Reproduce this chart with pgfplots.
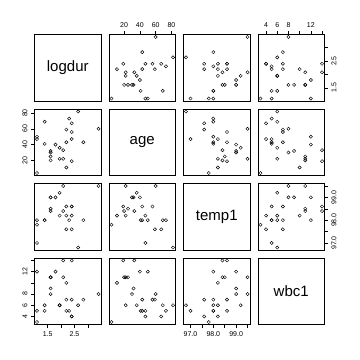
\documentclass[border=0pt]{standalone}
\usepackage{fontspec}
\setmainfont{Liberation Sans}
\usepackage{pgfplots}
\usepackage{pgfplotstable}
\pgfplotsset{compat=1.18}
\pgfplotstableread{
logdur age temp1 wbc1
1.609438 30 99.0 8
2.302585 73 98.0 5
1.791759 40 99.0 12
2.397895 47 98.2 4
1.609438 25 98.5 11
2.639057 82 96.8 6
3.401197 60 99.5 8
2.397895 56 98.6 7
2.833213 43 98.0 7
1.098612 50 98.0 12
2.197225 59 97.6 7
1.098612 4 97.8 3
2.079442 22 99.5 11
2.079442 33 98.4 14
1.609438 20 98.4 11
1.609438 32 99.0 9
1.945910 36 99.2 6
1.386294 69 98.0 6
1.098612 47 97.0 5
1.945910 22 98.2 6
2.197225 11 98.2 10
2.397895 19 98.6 14
2.397895 67 97.6 4
2.197225 43 98.6 5
1.386294 41 98.0 5
}\hosp
\tikzset{dg/.style={font=\fontsize{15}{16}\selectfont}}
\pgfplotsset{
 pan/.style={scale only axis, width=66.5pt, height=66.5pt, anchor=north west,
   axis line style={line width=0.6pt}, xtick=\empty, ytick=\empty,
   tick align=outside, major tick length=3.5pt,
   every tick/.style={black, line width=0.5pt},
   tick label style={font=\fontsize{7}{8}\selectfont}},
 xLD/.style={xmin=1.006509,xmax=3.493300},
 xAG/.style={xmin=0.88,xmax=85.12},
 xTE/.style={xmin=96.692,xmax=99.608},
 xWB/.style={xmin=2.56,xmax=14.44},
 yLD/.style={ymin=1.006509,ymax=3.493300},
 yAG/.style={ymin=0.88,ymax=85.12},
 yTE/.style={ymin=96.692,ymax=99.608},
 yWB/.style={ymin=2.56,ymax=14.44},
 sc/.style={only marks, mark=o, mark size=1.6pt, black, mark options={line width=0.45pt}},
 topx/.style={xtick pos=right, xticklabel pos=right},
 botx/.style={xtick pos=left, xticklabel pos=left},
 lefty/.style={ytick pos=left, yticklabel pos=left, yticklabel style={rotate=90, anchor=south}},
 righty/.style={ytick pos=right, yticklabel pos=right, yticklabel style={rotate=90, anchor=north}},
}
\begin{document}
\begin{tikzpicture}
\fill[white] (0,0) rectangle (360pt,360pt);
\useasboundingbox (0,0) rectangle (360pt,360pt);
% Row 1
\begin{axis}[pan, at={(34.5pt,325.5pt)}, xLD, yLD]
\node[dg] at (rel axis cs:0.5,0.5) {logdur};
\end{axis}
\begin{axis}[pan, at={(109pt,325.5pt)}, xAG, yLD, topx, xtick={20,40,60,80}, xticklabels={20,40,60,80}]
\addplot[sc] table[x=age,y=logdur] {\hosp};
\end{axis}
\begin{axis}[pan, at={(183.5pt,325.5pt)}, xTE, yLD]
\addplot[sc] table[x=temp1,y=logdur] {\hosp};
\end{axis}
\begin{axis}[pan, at={(258pt,325.5pt)}, xWB, yLD, topx, xtick={4,6,8,10,12,14}, xticklabels={4,6,8,,12,},
  righty, ytick={1.5,2,2.5,3}, yticklabels={1.5,,2.5,}]
\addplot[sc] table[x=wbc1,y=logdur] {\hosp};
\end{axis}
% Row 2
\begin{axis}[pan, at={(34.5pt,251pt)}, xLD, yAG, lefty, ytick={20,40,60,80}, yticklabels={20,40,60,80}]
\addplot[sc] table[x=logdur,y=age] {\hosp};
\end{axis}
\begin{axis}[pan, at={(109pt,251pt)}, xAG, yAG]
\node[dg] at (rel axis cs:0.5,0.5) {age};
\end{axis}
\begin{axis}[pan, at={(183.5pt,251pt)}, xTE, yAG]
\addplot[sc] table[x=temp1,y=age] {\hosp};
\end{axis}
\begin{axis}[pan, at={(258pt,251pt)}, xWB, yAG]
\addplot[sc] table[x=wbc1,y=age] {\hosp};
\end{axis}
% Row 3
\begin{axis}[pan, at={(34.5pt,176.5pt)}, xLD, yTE]
\addplot[sc] table[x=logdur,y=temp1] {\hosp};
\end{axis}
\begin{axis}[pan, at={(109pt,176.5pt)}, xAG, yTE]
\addplot[sc] table[x=age,y=temp1] {\hosp};
\end{axis}
\begin{axis}[pan, at={(183.5pt,176.5pt)}, xTE, yTE]
\node[dg] at (rel axis cs:0.5,0.5) {temp1};
\end{axis}
\begin{axis}[pan, at={(258pt,176.5pt)}, xWB, yTE, righty, ytick={97,97.5,98,98.5,99,99.5}, yticklabels={97.0,,98.0,,99.0,}]
\addplot[sc] table[x=wbc1,y=temp1] {\hosp};
\end{axis}
% Row 4
\begin{axis}[pan, at={(34.5pt,102pt)}, xLD, yWB, botx, xtick={1.5,2,2.5,3}, xticklabels={1.5,,2.5,},
  lefty, ytick={4,6,8,10,12,14}, yticklabels={4,6,8,,12,}]
\addplot[sc] table[x=logdur,y=wbc1] {\hosp};
\end{axis}
\begin{axis}[pan, at={(109pt,102pt)}, xAG, yWB]
\addplot[sc] table[x=age,y=wbc1] {\hosp};
\end{axis}
\begin{axis}[pan, at={(183.5pt,102pt)}, xTE, yWB, botx, xtick={97,97.5,98,98.5,99,99.5}, xticklabels={97.0,,98.0,,99.0,}]
\addplot[sc] table[x=temp1,y=wbc1] {\hosp};
\end{axis}
\begin{axis}[pan, at={(258pt,102pt)}, xWB, yWB]
\node[dg] at (rel axis cs:0.5,0.5) {wbc1};
\end{axis}
\end{tikzpicture}
\end{document}
